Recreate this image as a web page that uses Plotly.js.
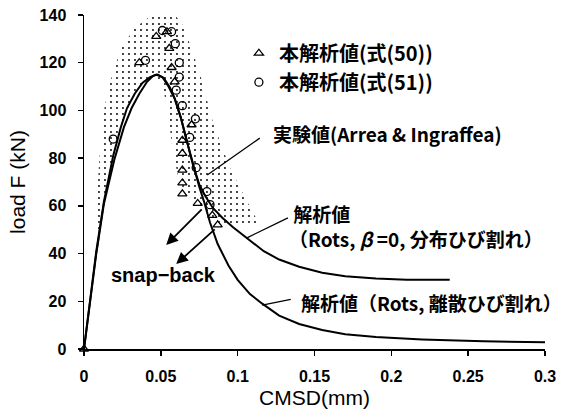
<!DOCTYPE html>
<html>
<head>
<meta charset="utf-8">
<script src="https://cdn.plot.ly/plotly-3.0.1.min.js"></script>
<style>html,body{margin:0;padding:0;background:#fff;}#chart{width:564px;height:415px;}</style>
</head>
<body>
<div id="chart"></div>
<script>
// Analysis curve: Rots, beta=0, smeared crack
var smearX = [0, 0.004, 0.008, 0.013, 0.019, 0.024, 0.028, 0.033, 0.038, 0.043, 0.047, 0.051, 0.055, 0.059, 0.063, 0.067, 0.071, 0.075, 0.079, 0.084, 0.090, 0.097, 0.106, 0.117, 0.127, 0.140, 0.155, 0.170, 0.190, 0.210, 0.238];
var smearF = [0, 21, 41, 62, 81, 93, 101, 107, 111.5, 114, 115, 114, 110, 105, 97, 87, 77, 69, 64, 59, 55, 51, 46.5, 41, 37.5, 34.5, 32, 30.5, 29.5, 29, 29];
// Analysis curve: Rots, discrete crack
var discX = [0, 0.004, 0.008, 0.013, 0.020, 0.026, 0.031, 0.036, 0.041, 0.045, 0.048, 0.052, 0.056, 0.059, 0.063, 0.067, 0.071, 0.075, 0.078, 0.082, 0.087, 0.094, 0.100, 0.108, 0.116, 0.127, 0.140, 0.155, 0.170, 0.190, 0.220, 0.260, 0.300];
var discF = [0, 20, 40, 61, 80, 93, 101, 107, 112, 114.5, 115, 113.5, 109.5, 105, 97, 87, 77, 68, 62, 53, 44, 35, 29, 23, 19, 14, 10.5, 8, 6.2, 5, 4, 3.2, 2.8];
// Experimental envelope (Arrea & Ingraffea), stippled band outline
var bandX = [0.0065, 0.008, 0.010, 0.013, 0.016, 0.024, 0.033, 0.042, 0.050, 0.058, 0.064, 0.070, 0.077, 0.083, 0.089, 0.095, 0.101, 0.106, 0.111, 0.115, 0.100, 0.086, 0.078, 0.068, 0.062, 0.058, 0.056, 0.054, 0.051, 0.047, 0.042, 0.036, 0.030, 0.024, 0.018, 0.014, 0.011, 0.009];
var bandF = [42, 60, 80, 100, 110, 126, 134.5, 139, 141, 141, 136, 126, 112, 97, 86, 76, 68, 62, 56, 52, 52, 53, 58, 64, 70, 82, 92, 102, 110, 114, 114, 110, 103, 93, 80, 65, 50, 42];
// Present analysis, eq.(50)
var triX = [0, 0.036, 0.047, 0.054, 0.0555, 0.057, 0.059, 0.070, 0.064, 0.064, 0.064, 0.064, 0.064, 0.074, 0.0835, 0.087];
var triF = [0, 120, 131, 133, 126, 118, 112, 94, 87.5, 82, 75, 69.6, 65, 61, 56, 52];
// Present analysis, eq.(51)
var cirX = [0.019, 0.040, 0.051, 0.057, 0.0594, 0.062, 0.062, 0.060, 0.064, 0.0725, 0.0688, 0.073, 0.080, 0.082];
var cirF = [88, 121, 133.5, 133, 128, 120, 114, 108.5, 102, 96.5, 88.7, 76, 66, 60.5];

var xTicks = [0, 0.05, 0.1, 0.15, 0.2, 0.25, 0.3];
var xTickText = ['0', '0.05', '0.1', '0.15', '0.2', '0.25', '0.3'];
var yTicks = [0, 20, 40, 60, 80, 100, 120, 140];

var jp = 'Noto Sans CJK JP, sans-serif';
var lat = 'Liberation Sans, Arial, sans-serif';

var traces = [
  {x: bandX, y: bandF, type: 'scatter', mode: 'lines', fill: 'toself', name: '実験値(Arrea & Ingraffea)',
   line: {width: 0, color: 'rgba(0,0,0,0)'}, fillcolor: 'rgba(255,255,255,0)',
   fillpattern: {shape: '.', size: 6, solidity: 0.08, fgcolor: '#000', bgcolor: 'rgba(255,255,255,0)'},
   showlegend: false, hoverinfo: 'skip'},
  {x: smearX, y: smearF, type: 'scatter', mode: 'lines', name: '解析値(Rots, β=0, 分布ひび割れ)',
   line: {color: '#000', width: 2}, showlegend: false},
  {x: discX, y: discF, type: 'scatter', mode: 'lines', name: '解析値(Rots, 離散ひび割れ)',
   line: {color: '#000', width: 2}, showlegend: false},
  {x: triX, y: triF, type: 'scatter', mode: 'markers', name: '本解析値(式(50))', cliponaxis: false,
   marker: {symbol: 'triangle-up-open', size: 8, color: '#000', line: {width: 1.3, color: '#000'}}},
  {x: cirX, y: cirF, type: 'scatter', mode: 'markers', name: '本解析値(式(51))', cliponaxis: false,
   marker: {symbol: 'circle-open', size: 8, color: '#000', line: {width: 1.3, color: '#000'}}}
];

var annFont = {family: jp, size: 19, color: '#000', weight: 'bold'};
var layout = {
  width: 564, height: 415,
  margin: {l: 84, r: 19, t: 15, b: 66},
  paper_bgcolor: '#fff', plot_bgcolor: '#fff',
  showlegend: true,
  legend: {x: 0.336, y: 0.944, xanchor: 'left', yanchor: 'top', bgcolor: 'rgba(0,0,0,0)',
           font: {family: jp, size: 20, color: '#000', weight: 'bold'}, itemwidth: 30, tracegroupgap: 0},
  xaxis: {range: [0, 0.3], tickvals: xTicks, ticktext: xTickText, ticks: 'outside', ticklen: 5, tickwidth: 1.5,
          showline: true, linewidth: 1.5, linecolor: '#000', tickcolor: '#000', showgrid: false, zeroline: false,
          ticklabelstandoff: 7,
          tickfont: {family: lat, size: 16, color: '#000', weight: 'bold'},
          title: {text: 'CMSD(mm)', font: {family: lat, size: 21, color: '#000'}, standoff: 6}},
  yaxis: {range: [0, 140], tickvals: yTicks, ticks: 'outside', ticklen: 5, tickwidth: 1.5,
          showline: true, linewidth: 1.5, linecolor: '#000', tickcolor: '#000', showgrid: false, zeroline: false,
          ticklabelstandoff: 8,
          tickfont: {family: lat, size: 16, color: '#000', weight: 'bold'},
          title: {text: 'load F (kN)', font: {family: lat, size: 21, color: '#000'}, standoff: 8}},
  annotations: [
    {x: 0.122, y: 90.5, xref: 'x', yref: 'y', text: '実験値(Arrea & Ingraffea)', showarrow: false,
     xanchor: 'left', yanchor: 'middle', font: annFont},
    {x: 0.0802, y: 72.9, xref: 'x', yref: 'y', text: '', showarrow: true, arrowhead: 0, arrowwidth: 1.3,
     arrowcolor: '#000', ax: 54, ay: -38, standoff: 0},
    {x: 0.132, y: 51.4, xref: 'x', yref: 'y', text: '&nbsp;解析値<br>（Rots, <i>β</i> =0, 分布ひび割れ）', showarrow: false,
     xanchor: 'left', yanchor: 'middle', align: 'left', font: annFont},
    {x: 0.1057, y: 46.5, xref: 'x', yref: 'y', text: '', showarrow: true, arrowhead: 0, arrowwidth: 1.3,
     arrowcolor: '#000', ax: 43, ay: -21, standoff: 0},
    {x: 0.140, y: 19.3, xref: 'x', yref: 'y', text: '解析値（Rots, 離散ひび割れ）', showarrow: false,
     xanchor: 'left', yanchor: 'middle', font: annFont},
    {x: 0.116, y: 18.4, xref: 'x', yref: 'y', text: '', showarrow: true, arrowhead: 0, arrowwidth: 1.3,
     arrowcolor: '#000', ax: 30, ay: -6, standoff: 0},
    {x: 0.052, y: 31, xref: 'x', yref: 'y', text: 'snap−back', showarrow: false,
     xanchor: 'center', yanchor: 'middle', font: {family: lat, size: 20, color: '#000', weight: 'bold'}},
    {x: 0.0535, y: 43.6, xref: 'x', yref: 'y', text: '', showarrow: true, arrowhead: 2, arrowsize: 1.3, arrowwidth: 1.8,
     arrowcolor: '#000', ax: 37, ay: -37, standoff: 0},
    {x: 0.060, y: 35.6, xref: 'x', yref: 'y', text: '', showarrow: true, arrowhead: 2, arrowsize: 1.3, arrowwidth: 1.8,
     arrowcolor: '#000', ax: 40, ay: -36, standoff: 0}
  ]
};

Plotly.newPlot('chart', traces, layout, {staticPlot: true, displayModeBar: false});
</script>
</body>
</html>
